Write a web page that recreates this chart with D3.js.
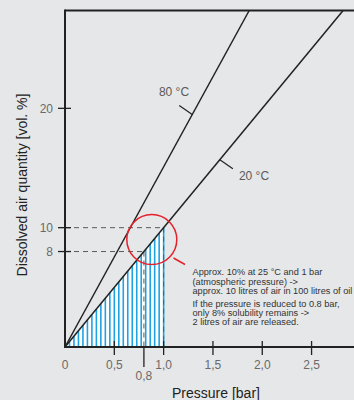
<!DOCTYPE html>
<html><head><meta charset="utf-8">
<script src="https://cdn.jsdelivr.net/npm/d3@7"></script>
<style>
html,body{margin:0;padding:0;background:#e6e7e8;}
svg{display:block;font-family:"Liberation Sans",Arial,sans-serif;}
</style></head>
<body><svg id="c" width="354" height="400"></svg>
<script>
// Data
const xTicks = [0, 0.5, 1.0, 1.5, 2.0, 2.5];
const xTickLabels = ["0", "0,5", "1,0", "1,5", "2,0", "2,5"];
const yTicks = [8, 10, 20];
const yTickLabels = ["8", "10", "20"];
const seriesNames = ["20 °C", "80 °C"];
const seriesSlopes = [10, 15.1]; // vol.% per bar
const markerPressures = [0.8, 1.0];
const markerValues = [8, 10];
const noteLines1 = ["Approx. 10% at 25 °C and 1 bar", "(atmospheric pressure) ->", "approx. 10 litres of air in 100 litres of oil"];
const noteLines2 = ["If the pressure is reduced to 0.8 bar,", "only 8% solubility remains ->", "2 litres of air are released."];

const svg = d3.select("#c");
const x = d3.scaleLinear().domain([0, 2.92]).range([65, 353]);
const y = d3.scaleLinear().domain([0, 28.2]).range([347, 10.5]);
const xMax = x.domain()[1], yMax = y.domain()[1];
const dark = "#222", grey = "#5a5a5a";

// hatched area under 20°C line from 0 to 1.0 bar
const hatchX = d3.range(0, 1.0001, 1 / 22);
const area = d3.area().x(d => x(d)).y0(y(0)).y1(d => y(seriesSlopes[0] * d));
svg.append("path").datum([0, 1.0]).attr("d", area).attr("fill", "#fff");
svg.append("g").selectAll("line").data(hatchX).join("line")
  .attr("x1", d => x(d)).attr("x2", d => x(d))
  .attr("y1", y(0)).attr("y2", d => y(seriesSlopes[0] * d))
  .attr("stroke", "#1ea2e2").attr("stroke-width", 1.6);

// dashed guides
markerPressures.forEach((p, i) => {
  svg.append("line").attr("x1", x(0)).attr("x2", x(p)).attr("y1", y(markerValues[i])).attr("y2", y(markerValues[i]))
    .attr("stroke", grey).attr("stroke-width", 1).attr("stroke-dasharray", "5,4");
  svg.append("line").attr("x1", x(p)).attr("x2", x(p)).attr("y1", y(markerValues[i])).attr("y2", y(0))
    .attr("stroke", grey).attr("stroke-width", 1).attr("stroke-dasharray", "5,4");
});

// lines
const line = d3.line().x(d => x(d[0])).y(d => y(d[1]));
seriesSlopes.forEach(s => {
  const pEnd = Math.min(xMax, yMax / s);
  svg.append("path").datum([[0, 0], [pEnd, s * pEnd]]).attr("d", line)
    .attr("fill", "none").attr("stroke", dark).attr("stroke-width", 1.5);
});

// axes frame
svg.append("line").attr("x1", x(0)).attr("x2", 354).attr("y1", y(yMax)).attr("y2", y(yMax)).attr("stroke", dark).attr("stroke-width", 2);
svg.append("line").attr("x1", x(0)).attr("x2", 354).attr("y1", y(0)).attr("y2", y(0)).attr("stroke", dark).attr("stroke-width", 2);
svg.append("line").attr("x1", x(0)).attr("x2", x(0)).attr("y1", y(yMax) - 1).attr("y2", y(0) + 1).attr("stroke", dark).attr("stroke-width", 2);

// x ticks
const xt = svg.append("g");
xTicks.forEach((t, i) => {
  if (t > 0) xt.append("line").attr("x1", x(t)).attr("x2", x(t)).attr("y1", y(0) - 6).attr("y2", y(0) + 8).attr("stroke", dark).attr("stroke-width", 1.3);
  xt.append("text").attr("x", x(t)).attr("y", 369).attr("text-anchor", "middle")
    .attr("font-size", 12).attr("fill", "#6a6a6a").text(xTickLabels[i]);
});
// 0,8 tick
xt.append("line").attr("x1", x(0.8)).attr("x2", x(0.8)).attr("y1", y(0)).attr("y2", 367).attr("stroke", dark).attr("stroke-width", 1.3);
xt.append("text").attr("x", x(0.8)).attr("y", 380).attr("text-anchor", "middle")
  .attr("font-size", 12).attr("fill", "#6a6a6a").text("0,8");

// y ticks
yTicks.forEach((t, i) => {
  svg.append("line").attr("x1", x(0) - 7).attr("x2", x(0) + 6).attr("y1", y(t)).attr("y2", y(t)).attr("stroke", dark).attr("stroke-width", 1.3);
  svg.append("text").attr("x", 53).attr("y", y(t) + 4.5).attr("text-anchor", "end")
    .attr("font-size", 12).attr("fill", "#6a6a6a").text(yTickLabels[i]);
});

// axis titles
svg.append("text").attr("transform", "translate(27,185) rotate(-90)").attr("text-anchor", "middle")
  .attr("font-size", 14).attr("fill", dark).text("Dissolved air quantity [vol. %]");
svg.append("text").attr("x", 216).attr("y", 398).attr("text-anchor", "middle")
  .attr("font-size", 14).attr("fill", dark).text("Pressure [bar]");

// series labels with leaders
const lab = [{s: 1, p: 1.29, dx: -13, dy: -9, tx: 174, ty: 96}, {s: 0, p: 1.57, dx: 13, dy: 9, tx: 254, ty: 180}];
lab.forEach(l => {
  const px = x(l.p), py = y(seriesSlopes[l.s] * l.p);
  svg.append("line").attr("x1", px).attr("y1", py).attr("x2", px + l.dx).attr("y2", py + l.dy).attr("stroke", dark).attr("stroke-width", 1.2);
  svg.append("text").attr("x", l.tx).attr("y", l.ty).attr("text-anchor", "middle")
    .attr("font-size", 12).attr("fill", "#5a5a5a").text(seriesNames[l.s]);
});

// red circle and pointer
svg.append("circle").attr("cx", x(0.88)).attr("cy", y(9)).attr("r", 25)
  .attr("fill", "none").attr("stroke", "#e3222a").attr("stroke-width", 1.5);
svg.append("line").attr("x1", 173.5).attr("y1", 258).attr("x2", 185).attr("y2", 264.5)
  .attr("stroke", "#e3222a").attr("stroke-width", 1.5);

// note
const note = svg.append("g").attr("font-size", 9.2).attr("fill", "#333");
noteLines1.forEach((t, i) => note.append("text").attr("x", 192.5).attr("y", 275 + i * 9.6).text(t));
noteLines2.forEach((t, i) => note.append("text").attr("x", 192.5).attr("y", 306.5 + i * 9.2).text(t));
</script></body></html>
